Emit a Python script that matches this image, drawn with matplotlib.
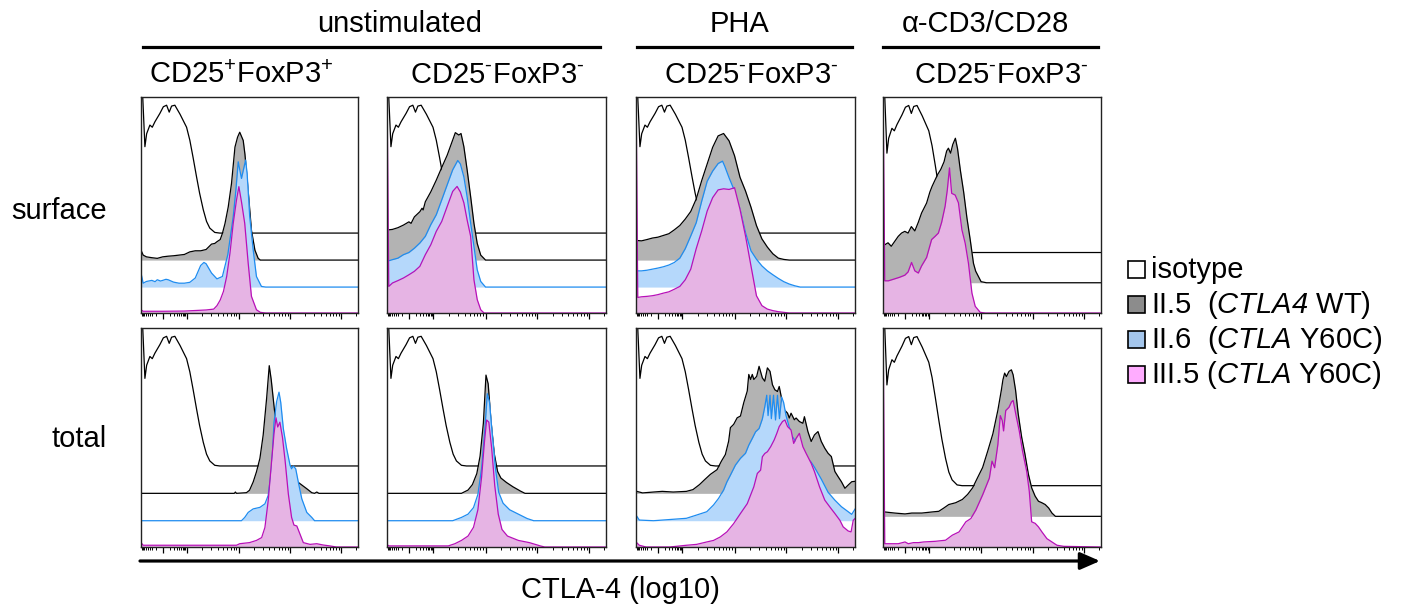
import numpy as np
import matplotlib.pyplot as plt
from matplotlib.lines import Line2D
from matplotlib.patches import Rectangle, FancyArrowPatch

plt.rcParams['font.family'] = ['Liberation Sans', 'DejaVu Sans']
plt.rcParams['mathtext.fontset'] = 'custom'
plt.rcParams['mathtext.rm'] = 'Liberation Sans'
plt.rcParams['mathtext.it'] = 'Liberation Sans:italic'
plt.rcParams['mathtext.cal'] = 'Liberation Sans:italic'

# labels
groups = ['unstimulated', 'PHA', 'α-CD3/CD28']
subsets = ['CD25$^{+}$FoxP3$^{+}$', 'CD25$^{\\text{-}}$FoxP3$^{\\text{-}}$',
           'CD25$^{\\text{-}}$FoxP3$^{\\text{-}}$', 'CD25$^{\\text{-}}$FoxP3$^{\\text{-}}$']
rows = ['surface', 'total']
samples = ['isotype', 'II.5  ($\\mathcal{CTLA4}$ WT)',
           'II.6  ($\\mathcal{CTLA}$ Y60C)', 'III.5 ($\\mathcal{CTLA}$ Y60C)']
x_label = 'CTLA-4 (log10)'

# histogram traces: (channel 0-1, height in % of panel)
isotype = [(0, 63), (0.008, 63), (0.018, 40), (0.026, 46), (0.041, 50), (0.052, 49),
           (0.064, 51.5), (0.087, 55.4), (0.103, 58.5), (0.118, 59.2), (0.13, 56),
           (0.141, 58.8), (0.156, 59.2), (0.18, 55), (0.21, 49), (0.225, 43), (0.24, 35),
           (0.256, 26), (0.27, 18.5), (0.287, 10.8), (0.302, 5.4), (0.317, 2.3),
           (0.34, 0.3), (0.363, 0), (1, 0)]

surf_treg_wt = [(0, 4.6), (0.01, 2.3), (0.025, 1.5), (0.05, 1.1), (0.075, 0.8), (0.1, 1.5),
                (0.125, 1.8), (0.15, 2), (0.175, 2.3), (0.2, 2.6), (0.225, 3.8), (0.25, 4.3),
                (0.275, 4.3), (0.3, 4.9), (0.325, 7.4), (0.34, 7.7), (0.35, 8.5), (0.365, 9.5),
                (0.375, 12.3), (0.387, 16.9), (0.402, 24.6), (0.417, 35.4), (0.433, 52.3),
                (0.445, 56.9), (0.455, 59.2), (0.471, 55.4), (0.479, 49), (0.494, 32),
                (0.509, 13.8), (0.525, 4.6), (0.54, 0.8), (0.55, 0), (1, 0)]
surf_treg_ii6 = [(0, 6.5), (0.01, 1.8), (0.025, 2.6), (0.05, 3.1), (0.065, 2.5), (0.075, 3.4),
                 (0.09, 2.8), (0.1, 3.1), (0.115, 3.6), (0.125, 3.4), (0.15, 2.3), (0.175, 1.8),
                 (0.2, 1.8), (0.225, 2.2), (0.25, 4.2), (0.275, 10), (0.29, 11.4), (0.3, 10.8),
                 (0.325, 6.5), (0.35, 3.8), (0.375, 4.9), (0.4, 15), (0.425, 32.6),
                 (0.437, 44.6), (0.448, 58), (0.463, 50.3), (0.482, 58.8), (0.489, 52.6),
                 (0.501, 32.6), (0.517, 17.2), (0.532, 4.9), (0.555, 0.3), (0.575, 0), (1, 0)]
surf_treg_iii5 = [(0, 1.5), (0.01, 0.8), (0.1, 0.8), (0.2, 0.9), (0.3, 1.4), (0.335, 1.8),
                  (0.35, 3.4), (0.365, 6), (0.38, 10), (0.395, 17), (0.41, 27.7), (0.425, 41.5),
                  (0.44, 52.3), (0.451, 58.5), (0.463, 51.5), (0.478, 41.5), (0.494, 23),
                  (0.509, 7.7), (0.532, 1.5), (0.55, 0.3), (0.575, 0), (1, 0)]

surf_tconv_wt = [(0, 13.9), (0.025, 14.2), (0.05, 15), (0.075, 16.2), (0.1, 17.7), (0.11, 17),
                 (0.125, 20), (0.15, 22.4), (0.16, 24), (0.165, 23.2), (0.175, 27), (0.2, 31.6),
                 (0.225, 37), (0.25, 42.9), (0.275, 48.6), (0.3, 55.6), (0.312, 59),
                 (0.328, 57.9), (0.338, 58.6), (0.351, 52.5), (0.366, 41.7), (0.382, 29.3),
                 (0.397, 17), (0.412, 7.7), (0.428, 2.3), (0.45, 0), (1, 0)]
surf_tconv_ii6 = [(0, 11.9), (0.025, 12.7), (0.05, 13.4), (0.075, 15), (0.1, 16), (0.125, 18),
                  (0.15, 20.4), (0.175, 23.5), (0.2, 28.9), (0.225, 33.5), (0.25, 40.4),
                  (0.275, 47.4), (0.3, 54.3), (0.323, 58.6), (0.335, 57), (0.351, 51),
                  (0.366, 41.7), (0.382, 29.6), (0.397, 18.8), (0.412, 8), (0.428, 2.6),
                  (0.45, 0), (1, 0)]
surf_tconv_iii5 = [(0, 105), (0.008, 12.3), (0.025, 13.9), (0.05, 15), (0.075, 16.2),
                   (0.1, 17.7), (0.125, 19.3), (0.15, 21.6), (0.175, 27), (0.2, 31.6),
                   (0.225, 37.8), (0.25, 42.4), (0.275, 49.4), (0.3, 56.3), (0.32, 58.6),
                   (0.335, 56), (0.351, 51), (0.366, 43), (0.382, 35.5), (0.397, 15.4),
                   (0.412, 6.2), (0.428, 1.5), (0.443, 0), (1, 0)]

surf_pha_wt = [(0, 9.1), (0.025, 8.9), (0.05, 9.5), (0.075, 10.2), (0.1, 10.6), (0.125, 11.4),
               (0.15, 12.2), (0.175, 14), (0.2, 16), (0.225, 19), (0.25, 22.5), (0.275, 28.3),
               (0.3, 36.8), (0.325, 44.5), (0.35, 52.2), (0.375, 57.5), (0.4, 58.6),
               (0.425, 55.2), (0.45, 48.3), (0.475, 38.3), (0.5, 32), (0.525, 24.5), (0.55, 16),
               (0.575, 9.8), (0.6, 6), (0.625, 2.9), (0.65, 0.9), (0.675, 0.3), (0.7, 0), (1, 0)]
surf_pha_ii6 = [(0, 7.5), (0.025, 7.5), (0.05, 7.8), (0.075, 8.3), (0.1, 8.8), (0.125, 9.4),
                (0.15, 10.2), (0.175, 11.4), (0.2, 13.4), (0.225, 17.8), (0.25, 23.7),
                (0.275, 29.8), (0.3, 39.8), (0.325, 49), (0.35, 53.7), (0.375, 57.2),
                (0.395, 58.3), (0.405, 56), (0.425, 50.6), (0.45, 44.5), (0.475, 36), (0.5, 25.2),
                (0.525, 16.8), (0.55, 12.9), (0.575, 9.8), (0.6, 7.5), (0.625, 5.7), (0.65, 4),
                (0.675, 2.5), (0.7, 1.4), (0.725, 0.6), (0.75, 0), (1, 0)]
surf_pha_iii5 = [(0, 105), (0.008, 7.2), (0.025, 7.5), (0.05, 7.7), (0.075, 8), (0.1, 8.5),
                 (0.125, 9.2), (0.15, 9.8), (0.175, 11), (0.2, 12.3), (0.225, 15.4), (0.25, 20.3),
                 (0.275, 29.8), (0.3, 38), (0.325, 47.2), (0.35, 53.4), (0.375, 57), (0.4, 57.5),
                 (0.425, 57.2), (0.45, 58), (0.475, 48), (0.5, 35.7), (0.525, 21.8), (0.55, 8),
                 (0.575, 3.4), (0.6, 1.8), (0.625, 1.1), (0.65, 0.6), (0.675, 0.3), (0.7, 0),
                 (1, 0)]

surf_cd3_wt = [(0, 16.9), (0.01, 17.7), (0.023, 18.5), (0.038, 16.9), (0.054, 19.2),
               (0.07, 21.5), (0.085, 23), (0.1, 23.8), (0.115, 23), (0.13, 26), (0.146, 24),
               (0.162, 28), (0.177, 32.3), (0.2, 36.9), (0.215, 42), (0.225, 44.6), (0.25, 50),
               (0.265, 52.5), (0.28, 56), (0.292, 61), (0.3, 62.3), (0.31, 60), (0.32, 64),
               (0.332, 66.9), (0.342, 62), (0.355, 52), (0.37, 42), (0.385, 30), (0.4, 20),
               (0.415, 9), (0.425, 5.4), (0.45, 0.5), (0.475, 0), (1, 0)]
surf_cd3_iii5 = [(0, 105), (0.008, 14.9), (0.025, 14.9), (0.05, 15.7), (0.075, 16.5),
                 (0.1, 17.5), (0.115, 19), (0.131, 23.4), (0.146, 19.5), (0.162, 18.5),
                 (0.177, 21.8), (0.2, 25.7), (0.223, 34), (0.238, 35.4), (0.254, 37),
                 (0.269, 42), (0.285, 49.5), (0.295, 57), (0.305, 67.2), (0.315, 55.4),
                 (0.331, 54.6), (0.346, 51), (0.362, 38.5), (0.377, 32.3), (0.392, 23),
                 (0.408, 9.2), (0.423, 3.1), (0.446, 0.3), (0.47, 0), (1, 0)]

tot_treg_wt = [(0, 0), (0.43, 0), (0.435, 0.6), (0.44, 0), (0.486, 0.3), (0.5, 1.4),
               (0.517, 5.2), (0.532, 9.8), (0.548, 16), (0.563, 26.6), (0.579, 43.5),
               (0.591, 58.3), (0.6, 52), (0.615, 38), (0.64, 22), (0.67, 13), (0.7, 7.5),
               (0.718, 5.5), (0.733, 4.4), (0.764, 2.1), (0.787, 0.3), (0.8, 0), (0.81, 0.6),
               (0.82, 0), (1, 0)]
tot_treg_ii6 = [(0, 0), (0.463, 0), (0.478, 1.5), (0.494, 3.8), (0.517, 5.4), (0.548, 6.1),
                (0.571, 7.7), (0.586, 11.5), (0.602, 23.7), (0.613, 45), (0.625, 54.4),
                (0.636, 58.7), (0.644, 54), (0.656, 42), (0.671, 33), (0.687, 25.3),
                (0.694, 23.7), (0.702, 25), (0.713, 23.7), (0.725, 17.6), (0.741, 10),
                (0.764, 3.8), (0.787, 1.5), (0.8, 0), (1, 0)]
tot_treg_iii5 = [(0, 2), (0.01, 0.8), (0.44, 0.8), (0.455, 1.5), (0.5, 2), (0.532, 3),
                 (0.556, 4.3), (0.571, 8.9), (0.586, 21), (0.602, 39.5), (0.613, 51.8),
                 (0.622, 59), (0.63, 54.8), (0.64, 57), (0.652, 50), (0.664, 39.5),
                 (0.679, 24.2), (0.694, 13.5), (0.705, 10), (0.718, 9.6), (0.733, 5.8),
                 (0.748, 2), (0.779, 1.2), (0.81, 1.5), (0.84, 0.9), (0.87, 0.5), (0.9, 0),
                 (1, 0)]

tot_tconv_wt = [(0, 0), (0.34, 0), (0.37, 1.5), (0.39, 4), (0.41, 9), (0.425, 17),
                (0.44, 32), (0.452, 54), (0.462, 50), (0.475, 33), (0.49, 18), (0.505, 10),
                (0.52, 7), (0.545, 5), (0.575, 3), (0.61, 1), (0.63, 0), (1, 0)]
tot_tconv_ii6 = [(0, 0), (0.3, 0), (0.34, 1.5), (0.37, 3), (0.395, 6), (0.415, 12),
                 (0.432, 24), (0.447, 42), (0.458, 58), (0.468, 54), (0.48, 40), (0.495, 24),
                 (0.51, 13), (0.53, 8), (0.56, 5), (0.6, 3), (0.64, 1), (0.67, 0), (1, 0)]
tot_tconv_iii5 = [(0, 1), (0.01, 0.5), (0.28, 0.5), (0.31, 1.5), (0.34, 3), (0.37, 5),
                  (0.395, 9), (0.415, 17), (0.432, 32), (0.445, 48), (0.455, 58), (0.465, 57),
                  (0.478, 45), (0.492, 28), (0.508, 15), (0.525, 8), (0.55, 5), (0.6, 3),
                  (0.65, 2), (0.7, 0.5), (0.72, 0), (1, 0)]

tot_pha_wt = [(0, 1), (0.03, 0.2), (0.08, 0.6), (0.12, 0.9), (0.17, 0.6), (0.23, 0.9),
              (0.26, 1.7), (0.29, 4), (0.315, 6.4), (0.34, 8.7), (0.37, 10.8), (0.39, 14.7),
              (0.408, 17.7), (0.423, 23.8), (0.431, 30), (0.446, 31.5), (0.462, 34.5),
              (0.477, 35.3), (0.492, 41.4), (0.508, 46.7), (0.515, 54.3), (0.523, 52),
              (0.531, 54.3), (0.538, 52), (0.551, 53.4), (0.562, 58), (0.577, 52.7),
              (0.588, 51.2), (0.6, 57.3), (0.612, 55.7), (0.623, 49.6), (0.634, 47.3),
              (0.646, 46.5), (0.654, 48.8), (0.669, 41.2), (0.677, 38.2), (0.692, 36.6),
              (0.7, 34.4), (0.708, 36.6), (0.723, 33.6), (0.731, 34.4), (0.746, 32.8),
              (0.762, 32), (0.769, 35), (0.785, 28.2), (0.8, 23.7), (0.815, 26.7),
              (0.831, 28.2), (0.846, 23.7), (0.862, 20.6), (0.877, 18.3), (0.892, 16.8),
              (0.908, 10), (0.923, 7.6), (0.938, 5.3), (0.954, 2.3), (0.969, 3.8),
              (0.985, 5.3), (1, 5.5)]
tot_pha_ii6 = [(0, 2.6), (0.015, 0.3), (0.08, 0), (0.23, 1.1), (0.277, 2.6), (0.323, 4.1),
               (0.354, 7.2), (0.377, 10.2), (0.4, 14), (0.415, 17.7), (0.431, 20.8),
               (0.454, 25.4), (0.477, 28.5), (0.5, 30.8), (0.515, 34.5), (0.531, 37.6),
               (0.546, 40.6), (0.562, 42.1), (0.577, 46.5), (0.588, 52), (0.597, 57.3),
               (0.603, 48), (0.612, 57.3), (0.618, 46.6), (0.628, 57.3), (0.637, 46),
               (0.646, 57.3), (0.655, 46.6), (0.665, 56.5), (0.674, 54), (0.685, 48),
               (0.7, 42.7), (0.715, 38.2), (0.738, 35), (0.762, 31.3), (0.777, 29), (0.8, 26.7),
               (0.815, 24.4), (0.846, 19), (0.877, 13), (0.908, 9.4), (0.938, 6.4),
               (0.969, 4.1), (0.985, 2.9), (1, 5.3)]
tot_pha_iii5 = [(0, 2.3), (0.015, 0.8), (0.046, 0), (0.154, 0), (0.231, 0.8), (0.277, 1.2),
                (0.323, 2.3), (0.354, 3), (0.385, 4.6), (0.415, 6.9), (0.446, 10.7),
                (0.477, 15.3), (0.508, 19.8), (0.538, 27.5), (0.554, 33.6), (0.569, 35.1),
                (0.577, 41.2), (0.588, 42.7), (0.6, 43.5), (0.615, 45.8), (0.631, 48.9),
                (0.643, 51.9), (0.654, 55), (0.669, 57.3), (0.68, 58), (0.692, 55),
                (0.708, 53.4), (0.72, 47.3), (0.731, 49.6), (0.746, 51.9), (0.762, 45.8),
                (0.777, 42.7), (0.8, 38.2), (0.815, 34.4), (0.838, 27.5), (0.862, 21.4),
                (0.885, 18.3), (0.908, 15.3), (0.931, 12.2), (0.946, 9.2), (0.969, 7.3),
                (0.982, 6.9), (0.992, 12.2), (1, 13)]

tot_cd3_wt = [(0, 2), (0.008, 2), (0.054, 1.5), (0.101, 1.1), (0.132, 1.5), (0.178, 1.5),
              (0.225, 2), (0.256, 2.3), (0.279, 3.8), (0.302, 5.4), (0.333, 6.2), (0.364, 7.7),
              (0.388, 10), (0.411, 13), (0.434, 17.7), (0.457, 22.3), (0.481, 30),
              (0.504, 37.7), (0.527, 48.5), (0.543, 57.7), (0.55, 62.3), (0.558, 65.4),
              (0.566, 63.8), (0.578, 66.2), (0.589, 66.9), (0.597, 64.6), (0.608, 57.7),
              (0.62, 46.9), (0.636, 36.2), (0.651, 28.5), (0.667, 19.2), (0.682, 13),
              (0.698, 9.2), (0.713, 6.9), (0.729, 6.2), (0.744, 5.4), (0.76, 3.8),
              (0.775, 1.5), (0.791, 0), (1, 0)]
tot_cd3_iii5 = [(0, 105), (0.008, 1.5), (0.039, 1.5), (0.07, 1.5), (0.101, 2.3), (0.116, 1.5),
                (0.14, 2), (0.163, 2), (0.186, 2.3), (0.24, 2.6), (0.287, 3.1), (0.318, 5.4),
                (0.349, 6.9), (0.38, 11.5), (0.403, 13), (0.426, 16.9), (0.457, 23.8),
                (0.488, 31.5), (0.5, 39.2), (0.512, 36.2), (0.527, 46.9), (0.538, 60),
                (0.547, 57.7), (0.553, 53), (0.563, 62.3), (0.578, 63.8), (0.589, 66.2),
                (0.597, 66.9), (0.612, 59.2), (0.625, 53), (0.64, 43.8), (0.659, 34.6),
                (0.671, 25.4), (0.682, 11.5), (0.698, 10.8), (0.713, 9.2), (0.729, 6.9),
                (0.752, 3.8), (0.775, 2.3), (0.798, 0.8), (0.829, 0.3), (1, 0)]

panels = [
    [(surf_treg_wt, surf_treg_ii6, surf_treg_iii5),
     (surf_tconv_wt, surf_tconv_ii6, surf_tconv_iii5),
     (surf_pha_wt, surf_pha_ii6, surf_pha_iii5),
     (surf_cd3_wt, None, surf_cd3_iii5)],
    [(tot_treg_wt, tot_treg_ii6, tot_treg_iii5),
     (tot_tconv_wt, tot_tconv_ii6, tot_tconv_iii5),
     (tot_pha_wt, tot_pha_ii6, tot_pha_iii5),
     (tot_cd3_wt, None, tot_cd3_iii5)],
]

# styles
fill_colors = [None, '#b3b3b3', '#b5d8fb', '#e6b4e4']
line_colors = ['black', 'black', '#1e8cf0', '#b810b8']
swatch_colors = ['white', '#8c8c8c', '#a4c6ec', '#ffacff']

W, H = 1417, 612
fig = plt.figure(figsize=(W / 100, H / 100), dpi=100)


def fx(x):
    return x / W


def fy(y):
    return 1 - y / H


col_px = [(141, 358), (387, 606), (636, 855), (883, 1101)]
row_px = [(97, 313), (328, 547)]

major = [0.1, 0.21, 0.45, 0.686, 0.922]
minor = ([0.1 - 0.1 * np.log10(k) for k in range(2, 10)]
         + [0.1 + 0.11 * np.log10(k) for k in range(2, 10)]
         + [0.21 + 0.24 * np.log10(k) for k in range(2, 10)]
         + [0.45 + 0.236 * np.log10(k) for k in range(2, 10)]
         + [0.686 + 0.236 * np.log10(k) for k in range(2, 10)]
         + [0.922 + 0.236 * np.log10(2)])

for r, (y0, y1) in enumerate(row_px):
    for c, (x0, x1) in enumerate(col_px):
        ax = fig.add_axes([fx(x0), fy(y1), fx(x1) - fx(x0), (y1 - y0) / H])
        wt, ii6, iii5 = panels[r][c]
        if ii6 is None:
            traces = [(isotype, 0), (wt, 1), (iii5, 3)]
            bases = [0.28, 0.14, 0.0]
            iso_scale = 1.15
        else:
            traces = [(isotype, 0), (wt, 1), (ii6, 2), (iii5, 3)]
            bases = [0.37, 0.245, 0.12, 0.0]
            iso_scale = 1.0
        for k, ((trace, s), base) in enumerate(zip(traces, bases)):
            x, h = np.array(trace).T
            if s == 0:
                h = h * iso_scale
            y = base + h / 100
            z = 2 + 2 * k
            if fill_colors[s]:
                ax.fill_between(x, base, y, color=fill_colors[s], lw=0, zorder=z)
            ax.plot(x, y, color=line_colors[s], lw=0.9, zorder=z + 1)
        ax.set_yticks([])
        ax.set_xticks(major)
        ax.set_xticks(minor, minor=True)
        ax.set_xticklabels([])
        ax.set_xlim(0, 1)
        ax.set_ylim(0, 1)
        ax.tick_params(axis='x', which='major', direction='out', length=4, width=0.9)
        ax.tick_params(axis='x', which='minor', direction='out', length=2.5, width=0.7)
        for sp in ax.spines.values():
            sp.set_linewidth(1.0)
            sp.set_color('#222222')
            sp.set_zorder(20)

# headers
fs = 21
for label, xc, (lx0, lx1) in zip(groups, [400, 739, 985],
                                  [(143, 600), (637, 852), (883, 1098)]):
    fig.text(fx(xc), fy(32), label, ha='center', va='baseline', fontsize=fs)
    fig.add_artist(Line2D([fx(lx0), fx(lx1)], [fy(47), fy(47)],
                          transform=fig.transFigure, color='black', lw=2.3))
for label, xc in zip(subsets, [241, 497, 751, 1001]):
    fig.text(fx(xc), fy(83), label, ha='center', va='baseline', fontsize=fs)

for label, yb in zip(rows, [219, 447]):
    fig.text(fx(107), fy(yb), label, ha='right', va='baseline', fontsize=fs)

# x axis arrow and label
fig.add_artist(FancyArrowPatch((fx(140), fy(561)), (fx(1100), fy(561)),
                               transform=fig.transFigure, color='black', lw=2.3,
                               arrowstyle='-|>,head_length=0.8,head_width=0.35',
                               mutation_scale=15, shrinkA=0, shrinkB=0))
fig.text(fx(620), fy(598), x_label, ha='center', va='baseline', fontsize=fs)

# legend
for label, color, yb in zip(samples, swatch_colors, [278, 313, 348, 383]):
    fig.add_artist(Rectangle((fx(1128), fy(yb)), 17 / W, 17 / H, transform=fig.transFigure,
                             facecolor=color, edgecolor='black', lw=1.2))
    fig.text(fx(1151), fy(yb), label, ha='left', va='baseline', fontsize=fs)

fig.savefig('out.png', dpi=100)
